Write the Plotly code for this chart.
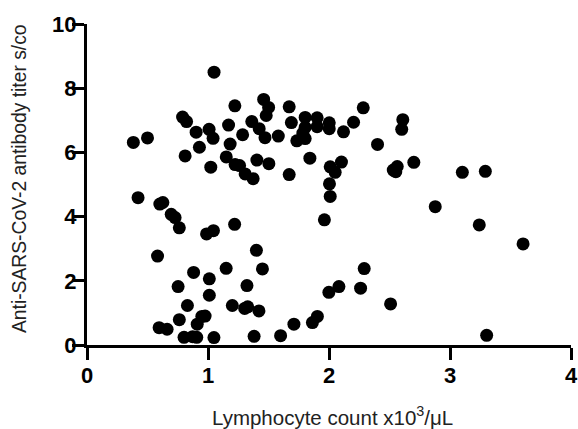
import plotly.graph_objects as go

# Lymphocyte count (x10^3/uL)
lymphocytes = [
    1.050, 0.383, 0.500, 0.790, 0.823, 0.902, 0.929, 0.811, 1.009, 1.042,
    1.023, 1.222, 1.170, 1.183, 1.286, 1.151, 1.224, 1.261, 1.307, 1.373,
    1.362, 1.423, 1.471, 1.404, 1.503, 1.460, 1.501, 1.481, 1.581, 1.671,
    1.689, 1.671, 1.803, 1.803, 1.784, 1.734, 1.803, 1.842, 1.902, 1.902,
    2.002, 2.002, 2.120, 2.203, 2.283, 2.401, 2.610, 2.601, 2.010, 2.051,
    2.103, 2.004, 2.010, 2.531, 2.564, 2.552, 2.701, 3.102, 3.292,
    0.422, 0.602, 0.627, 0.696, 0.728, 0.763, 0.988, 1.045, 1.220, 0.583,
    1.400, 1.450, 1.150, 0.881, 1.011, 0.753, 1.322, 1.011, 1.201, 1.303,
    1.328, 1.421, 0.830, 0.949, 0.976, 0.763, 0.911, 0.596, 0.662, 0.802,
    0.873, 0.907, 1.049, 1.381, 1.600, 1.710, 1.863, 1.904, 1.962, 1.999,
    2.082, 2.261, 2.291, 2.509, 2.878, 3.242, 3.604, 3.303,
]

# Anti-SARS-CoV-2 antibody titer (s/co)
titers = [
    8.50, 6.31, 6.45, 7.10, 6.96, 6.63, 6.16, 5.89, 6.72, 6.44,
    5.54, 7.45, 6.85, 6.26, 6.55, 5.86, 5.62, 5.59, 5.33, 5.18,
    6.96, 6.74, 6.46, 5.76, 5.65, 7.65, 7.40, 7.15, 6.51, 7.42,
    6.93, 5.31, 7.09, 6.78, 6.60, 6.36, 6.43, 5.82, 7.08, 6.80,
    6.92, 6.74, 6.64, 6.94, 7.39, 6.25, 7.02, 6.72, 5.55, 5.38,
    5.70, 5.02, 4.63, 5.45, 5.56, 5.40, 5.69, 5.38, 5.41,
    4.59, 4.39, 4.44, 4.07, 3.97, 3.65, 3.46, 3.56, 3.76, 2.77,
    2.95, 2.37, 2.39, 2.26, 2.06, 1.82, 1.85, 1.55, 1.23, 1.14,
    1.19, 1.06, 1.23, 0.89, 0.90, 0.79, 0.65, 0.54, 0.49, 0.24,
    0.26, 0.24, 0.23, 0.27, 0.29, 0.65, 0.70, 0.89, 3.90, 1.64,
    1.82, 1.77, 2.38, 1.28, 4.31, 3.74, 3.15, 0.30,
]

x_ticks = [0, 1, 2, 3, 4]
y_ticks = [0, 2, 4, 6, 8, 10]
x_title = "Lymphocyte count x10<sup>3</sup>/μL"
y_title = "Anti-SARS-CoV-2 antibody titer s/co"

fig = go.Figure(
    go.Scatter(
        x=lymphocytes,
        y=titers,
        mode="markers",
        marker=dict(color="black", size=13, line=dict(width=0)),
        cliponaxis=False,
        hoverinfo="x+y",
    )
)

tick_font = dict(family="Liberation Sans", size=22, color="black", weight="bold")
title_color = "#222222"

axis_common = dict(
    showgrid=False,
    zeroline=False,
    showline=True,
    linecolor="black",
    linewidth=3,
    ticks="outside",
    ticklen=12,
    tickwidth=3,
    tickcolor="black",
    tickfont=tick_font,
    automargin=False,
)

fig.update_layout(
    width=578,
    height=429,
    margin=dict(l=87, r=7, t=24, b=84),
    paper_bgcolor="white",
    plot_bgcolor="white",
    showlegend=False,
    xaxis=dict(range=[0, 4], tickvals=x_ticks,
               ticktext=[str(v) for v in x_ticks],
               ticklabelstandoff=-3, **axis_common),
    yaxis=dict(range=[0, 10], tickvals=y_ticks,
               ticktext=[str(v) for v in y_ticks],
               ticklabelstandoff=-9, **axis_common),
    annotations=[
        dict(text=x_title, xref="paper", yref="paper", x=0.5, y=-0.221,
             xshift=3, xanchor="center", yanchor="middle", showarrow=False,
             font=dict(family="Liberation Sans", size=20.5, color=title_color)),
        dict(text=y_title, xref="paper", yref="paper", x=0, y=0.517,
             xshift=-68, xanchor="center", yanchor="middle", textangle=-90,
             showarrow=False,
             font=dict(family="Liberation Sans", size=19.3, color=title_color)),
    ],
)

# Remove the default page margin so the figure starts at the window's corner.
fig.write_html(
    "out.html",
    config={"displayModeBar": False},
    post_script="document.body.style.margin='0';document.body.style.overflow='hidden';",
)
